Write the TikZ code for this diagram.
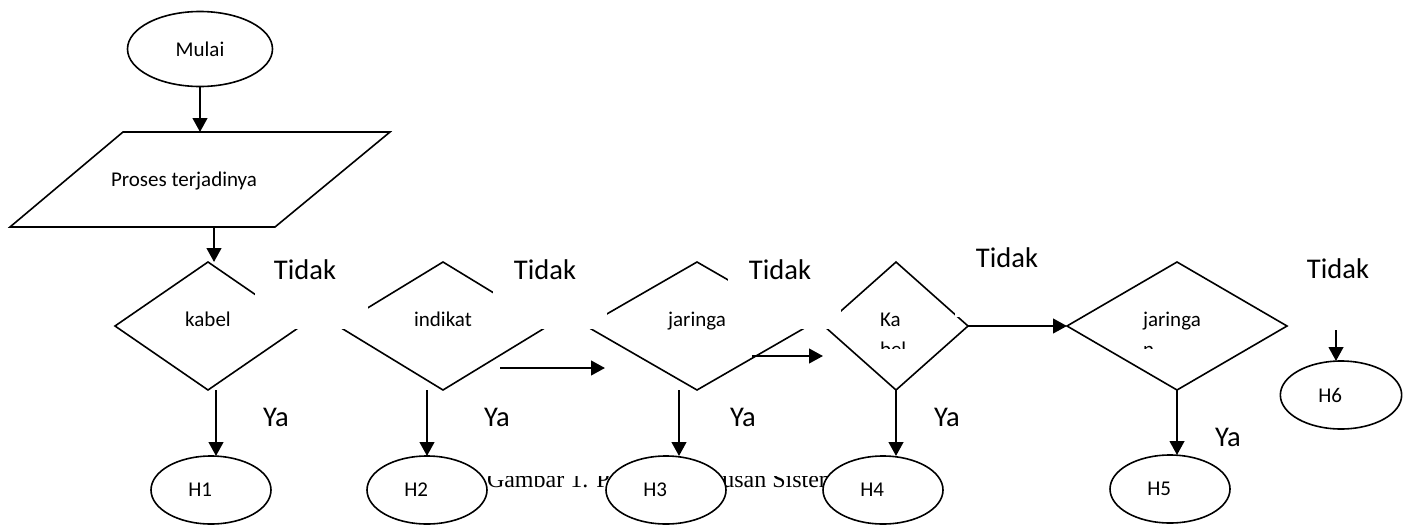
\documentclass[tikz,border=0pt]{standalone}
\usepackage{fontspec}
\setmainfont{Carlito}
\newfontfamily\captionfont{Liberation Serif}
\usetikzlibrary{shapes.geometric,arrows.meta,calc}

\begin{document}
\begin{tikzpicture}[x=0.75pt,y=-0.75pt,
  every node/.style={font=\fontsize{15.75}{20.25}\selectfont, inner sep=0pt, outer sep=0pt},
  line/.style={draw, line width=1.2pt},
  terminal/.style={line, ellipse, fill=white, minimum width=90pt, minimum height=51pt, text width=34pt, align=left},
  decision/.style={line, diamond, minimum height=96pt, text height=11pt, text depth=11pt},
  answer/.style={font=\fontsize{21.4}{26}\selectfont},
  arr/.style={-{Triangle[length=10.5pt,width=11pt]}, line width=1.7pt},
  mask/.style={fill=white}]
  \useasboundingbox (0,0) rectangle (1409,525);

  % caption, half hidden behind the end nodes
  \begin{scope}
    \clip (480,476) rectangle (840,505);
    \node (caption) [anchor=base west, font=\captionfont\fontsize{18}{20}\selectfont] at (487,487) {Gambar 1. Pohon Keputusan Sistem};
  \end{scope}

  % start and input
  \node (mulai) [line, ellipse, minimum width=108.75pt, minimum height=56.25pt] at (200,49) {Mulai};
  \draw[line] (123,132) -- (390,132) -- (275,227) -- (10,227) -- cycle;
  \node (proses) at (184,181) {Proses terjadinya};
  \coordinate (pin) at (200,132);
  \coordinate (pout) at (214,227);

  % decisions
  \node (d1) [decision, minimum width=139.5pt] at (208,326) {kabel};
  \node (d2) [decision, minimum width=157.5pt] at (443,326) {indikat};
  \node (d3) [decision, minimum width=166.5pt] at (697,326) {jaringa};
  \node (d4) [decision, minimum width=108pt] at (896,326) {};
  \node (d5) [decision, minimum width=165pt] at (1177,326) {};

  % results
  \node (h1) [terminal] at (211,490) {H1};
  \node (h2) [terminal] at (427,490) {H2};
  \node (h3) [terminal] at (666,490) {H3};
  \node (h4) [terminal] at (883,490) {H4};
  \node (h5) [terminal] at (1170,489) {H5};
  \node (h6) [terminal, minimum width=91pt] at (1341,395) {H6};

  % white text boxes over the diamonds
  \fill[mask] (255,245) rectangle (368,329);
  \fill[mask] (493,245) rectangle (607,329);
  \fill[mask] (728,245) rectangle (841,329);
  \fill[mask] (955,245) rectangle (1060,317);

  \begin{scope}
    \clip (850,300) rectangle (960,348);
    \node (t4) [anchor=north west, align=left] at (880,313) {Ka\\[2.5pt]bel};
  \end{scope}
  \begin{scope}
    \clip (1110,300) rectangle (1250,348);
    \node (t5) [anchor=north west, align=left] at (1143,312) {jaringa\\[2.5pt]n};
  \end{scope}

  \node (no1) [answer] at (305,270) {Tidak};
  \node (no2) [answer] at (545,270) {Tidak};
  \node (no3) [answer] at (780,270) {Tidak};
  \node (no4) [answer] at (1007,258) {Tidak};
  \node (no5) [answer] at (1338,269) {Tidak};
  \node (ya1) [answer] at (276,417) {Ya};
  \node (ya2) [answer] at (497,417) {Ya};
  \node (ya3) [answer] at (743,417) {Ya};
  \node (ya4) [answer] at (947,417) {Ya};
  \node (ya5) [answer] at (1228,437) {Ya};

  % arrows
  \coordinate (y1) at (216,390);
  \coordinate (y3) at (679,390);
  \coordinate (a1s) at (500,368);
  \coordinate (a1e) at (605,368);
  \coordinate (a2s) at (752,356);
  \coordinate (a2e) at (823,356);
  \coordinate (t6) at (1336,330);
  \draw[arr] (mulai) -- (pin);
  \draw[arr] (pout) -- (pout |- d1.north);
  \draw[arr] (y1) -- (y1 |- h1.north);
  \draw[arr] (h2.north |- d2.south) -- (h2.north);
  \draw[arr] (y3) -- (y3 |- h3.north);
  \draw[arr] (d4.south) -- (d4.south |- h4.north);
  \draw[arr] (d5.south) -- (d5.south |- h5.north);
  \draw[arr] (a1s) -- (a1e);
  \draw[arr] (a2s) -- (a2e);
  \draw[arr] (d4.east) -- (d5.west);
  \draw[arr] (t6) -- (t6 |- h6.north);
\end{tikzpicture}
\end{document}
